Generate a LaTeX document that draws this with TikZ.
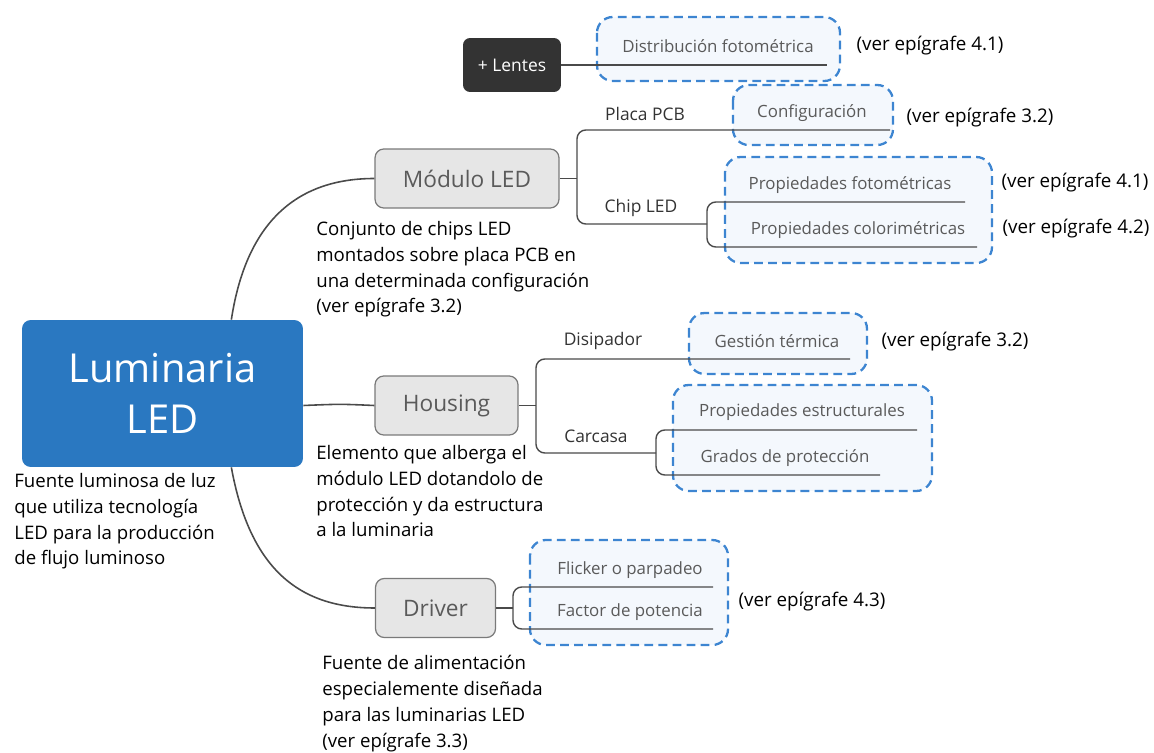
\documentclass[tikz,border=0pt]{standalone}
\usepackage{fontspec}
\setmainfont{Open Sans}
\usetikzlibrary{positioning}
\definecolor{azul}{HTML}{2A78C1}
\definecolor{azulraya}{HTML}{3D85D1}
\definecolor{azulclaro}{HTML}{F4F8FD}
\definecolor{grisbox}{HTML}{E6E6E6}
\definecolor{grisborde}{HTML}{7A7A7A}
\definecolor{grislinea}{HTML}{4A4A4A}
\definecolor{gristexto}{HTML}{5A5A5A}
\definecolor{oscuro}{HTML}{333333}

\tikzset{
  central/.style={fill=azul, rounded corners=5pt, text=white, align=center,
    minimum width=5.62cm, minimum height=2.94cm, font=\fontsize{22.7}{29}\selectfont},
  rama/.style={draw=grisborde, fill=grisbox, rounded corners=5pt, line width=0.7pt,
    text=gristexto, minimum height=1.18cm, font=\fontsize{12.9}{15}\selectfont},
  negro/.style={fill=oscuro, rounded corners=4pt, text=white,
    minimum width=1.96cm, minimum height=1.08cm, font=\fontsize{9.9}{12}\selectfont},
  hoja/.style={text=gristexto, inner sep=1pt, font=\fontsize{9.6}{11}\selectfont},
  subrama/.style={text=oscuro, inner sep=1pt, font=\fontsize{9.9}{12}\selectfont},
  nota/.style={align=left, anchor=north west, inner sep=0pt, font=\fontsize{10.6}{14.7}\selectfont},
  verref/.style={inner sep=1pt, font=\fontsize{10.7}{12}\selectfont},
  grupo/.style={draw=azulraya, fill=azulclaro, rounded corners=9pt, line width=1.3pt,
    dash pattern=on 5pt off 3pt},
  enlace/.style={draw=grislinea, line width=0.9pt},
  codo/.style={draw=grislinea, line width=0.8pt, rounded corners=5pt}
}

\begin{document}
\begin{tikzpicture}[x=0.02cm, y=-0.02cm]
\useasboundingbox (0,0) rectangle (1154,753);

% marcos de grupo
\filldraw[grupo] (597,17) rectangle (840,81);
\filldraw[grupo] (733,85) rectangle (893,145);
\filldraw[grupo] (725,157) rectangle (992,263);
\filldraw[grupo] (689,313) rectangle (867,374);
\filldraw[grupo] (673,385) rectangle (932,491);
\filldraw[grupo] (530,540) rectangle (728,645);

% nodos principales
\node[central] (lum) at (162.5,393.5) {Luminaria\\LED};
\node[rama, minimum width=3.68cm] (modulo) at (467,178.5) {Módulo LED};
\node[rama, minimum width=2.86cm] (housing) at (446.5,405.5) {Housing};
\node[rama, minimum width=2.40cm] (driver) at (435.5,608) {Driver};
\node[negro] (lentes) at (512,65) {+ Lentes};

% ramas secundarias
\node[subrama] (pcb) at (645,114) {Placa PCB};
\node[subrama] (chip) at (641,208) {Chip LED};
\node[subrama] (disip) at (603,341) {Disipador};
\node[subrama] (carcasa) at (596,436) {Carcasa};

% hojas
\node[hoja] (distrib) at (718,46) {Distribución fotométrica};
\node[hoja] (config) at (812,113) {Configuración};
\node[hoja] (fotom) at (850,185) {Propiedades fotométricas};
\node[hoja] (colorim) at (858,230) {Propiedades colorimétricas};
\node[hoja] (gestion) at (777,341) {Gestión térmica};
\node[hoja] (estruct) at (802,412) {Propiedades estructurales};
\node[hoja] (grados) at (785,458) {Grados de protección};
\node[hoja] (flicker) at (630,570) {Flicker o parpadeo};
\node[hoja] (factor) at (630,612) {Factor de potencia};

% referencias
\node[verref] (r1) at (930,46) {(ver epígrafe 4.1)};
\node[verref] (r2) at (980,118) {(ver epígrafe 3.2)};
\node[verref] (r3) at (1075,183) {(ver epígrafe 4.1)};
\node[verref] (r4) at (1076,229) {(ver epígrafe 4.2)};
\node[verref] (r5) at (955,342) {(ver epígrafe 3.2)};
\node[verref] (r6) at (812,602) {(ver epígrafe 4.3)};

% notas
\node[nota] (nlum) at (14,473) {Fuente luminosa de luz\\que utiliza tecnología\\LED para la producción\\de flujo luminoso};
\node[nota] (nmod) at (316,221) {Conjunto de chips LED\\montados sobre placa PCB en\\una determinada configuración\\(ver epígrafe 3.2)};
\node[nota] (nhou) at (316,445) {Elemento que alberga el\\módulo LED dotandolo de\\protección y da estructura\\a la luminaria};
\node[nota] (ndri) at (322,655) {Fuente de alimentación\\especialemente diseñada\\para las luminarias LED\\(ver epígrafe 3.3)};

% puntos de las ramas
\coordinate (bm) at (577,178.5);
\coordinate (bh) at (536,405.5);
\coordinate (bd) at (513,608);
\coordinate (bc) at (707,224);
\coordinate (bk) at (656,453);

% conexiones
\draw[enlace] (lum.47) .. controls (245,230) and (290,178.5) .. (modulo.west);
\draw[enlace] (lum.east |- housing.west) .. controls (340,404) .. (housing.west);
\draw[enlace] (lum.-47) .. controls (250,570) and (300,608) .. (driver.west);

\draw[enlace] (lentes.east) -- (827,65);

\draw[enlace] (modulo.east) -- (bm);
\draw[codo] (890,130) -- (577,130) -- (577,224) -- (bc);
\draw[codo] (965,202) -- (707,202) -- (707,247) -- (977,247);

\draw[enlace] (housing.east) -- (bh);
\draw[codo] (850,359) -- (536,359) -- (536,453) -- (bk);
\draw[codo] (917,430) -- (656,430) -- (656,475) -- (880,475);

\draw[enlace] (driver.east) -- (bd);
\draw[codo] (713,587) -- (513,587) -- (513,629) -- (713,629);

\end{tikzpicture}
\end{document}
